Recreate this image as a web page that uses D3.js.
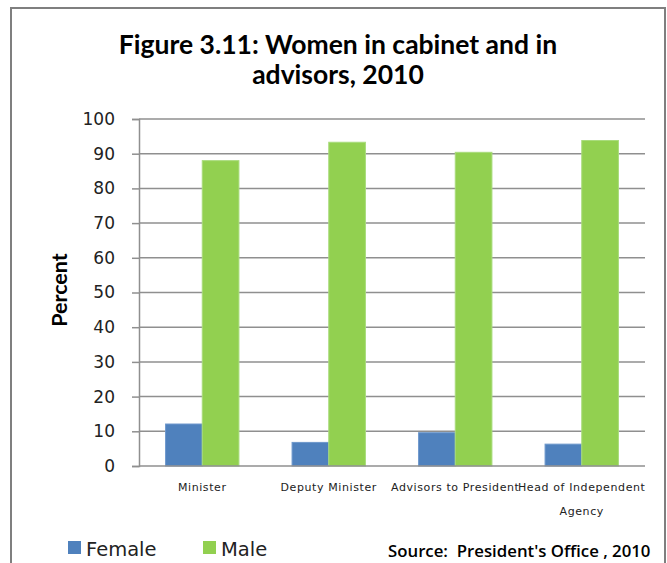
<!DOCTYPE html>
<html><head><meta charset="utf-8">
<script src="https://cdn.jsdelivr.net/npm/d3@7"></script>
<style>body{margin:0;background:#fff}svg{display:block}</style>
</head><body>
<svg id="c" width="667" height="563"></svg>
<script>
const categories = ["Minister", "Deputy Minister", "Advisors to President", "Head of Independent Agency"];
const seriesNames = ["Female", "Male"];
const female = [12.1, 6.8, 9.6, 6.3];
const male = [88.0, 93.3, 90.4, 93.8];
const yTicks = [0, 10, 20, 30, 40, 50, 60, 70, 80, 90, 100];
const colors = ["#4f81bd", "#92d050"];
const strokes = ["#6e98cc", "#a9dc7c"];

const svg = d3.select("#c");
const m = {left: 139, right: 645, top: 119, bottom: 466};

svg.append("rect").attr("x", 11).attr("y", 8).attr("width", 654).attr("height", 620)
  .attr("fill", "#fff").attr("stroke", "#7f7f7f").attr("stroke-width", 2);

svg.append("text").attr("x", 338).attr("y", 54).attr("text-anchor", "middle")
  .attr("font-family", "Lato").attr("font-weight", "bold").attr("font-size", 26.5).attr("fill", "#000")
  .text("Figure 3.11: Women in cabinet and in");
svg.append("text").attr("x", 338).attr("y", 84).attr("text-anchor", "middle")
  .attr("font-family", "Lato").attr("font-weight", "bold").attr("font-size", 26.5).attr("fill", "#000")
  .text("advisors, 2010");

const x0 = d3.scaleBand().domain(categories).range([m.left, m.right]).paddingInner(0.42).paddingOuter(0.21);
const x1 = d3.scaleBand().domain(seriesNames).range([0, x0.bandwidth()]);
const y = d3.scaleLinear().domain([0, 100]).range([m.bottom, m.top]);

// gridlines
svg.append("g").selectAll("line").data(yTicks.filter(d => d > 0)).join("line")
  .attr("x1", m.left).attr("x2", m.right).attr("y1", d => y(d)).attr("y2", d => y(d))
  .attr("stroke", "#8f8f8f").attr("stroke-width", 1.5);

// y axis
const yAxis = svg.append("g").attr("transform", `translate(${m.left},0)`)
  .call(d3.axisLeft(y).tickValues(yTicks).tickSize(7).tickPadding(17).tickFormat(d3.format("d")));
yAxis.select(".domain").attr("stroke", "#8f8f8f").attr("stroke-width", 1.5);
yAxis.selectAll(".tick line").attr("stroke", "#8f8f8f").attr("stroke-width", 1.5);
yAxis.selectAll(".tick text").attr("font-family", "DejaVu Sans").attr("font-size", 17).attr("fill", "#222");

// bars
const groups = svg.append("g").selectAll("g").data(categories).join("g")
  .attr("transform", d => `translate(${x0(d)},0)`);
groups.selectAll("rect").data((d, i) => [{k: "Female", v: female[i], s: 0}, {k: "Male", v: male[i], s: 1}]).join("rect")
  .attr("x", d => x1(d.k)).attr("width", x1.bandwidth())
  .attr("y", d => y(d.v)).attr("height", d => y(0) - y(d.v))
  .attr("fill", d => colors[d.s]).attr("stroke", d => strokes[d.s]).attr("stroke-width", 1);

// x axis baseline
svg.append("line").attr("x1", m.left).attr("x2", m.right).attr("y1", y(0)).attr("y2", y(0))
  .attr("stroke", "#8f8f8f").attr("stroke-width", 1.5);

// category labels with wrapping
const xl = svg.append("g");
categories.forEach(c => {
  const cx = x0(c) + x0.bandwidth() / 2;
  const t = xl.append("text").attr("x", cx).attr("y", 491)
    .attr("text-anchor", "middle").attr("font-family", "DejaVu Sans").attr("font-size", 11)
    .attr("letter-spacing", 0.6).attr("fill", "#222");
  const words = c.split(" ");
  let line = [];
  let ts = t.append("tspan").attr("x", cx).attr("dy", 0);
  words.forEach(w => {
    line.push(w);
    ts.text(line.join(" "));
    if (ts.node().getComputedTextLength() > 140 && line.length > 1) {
      line.pop(); ts.text(line.join(" "));
      line = [w];
      ts = t.append("tspan").attr("x", cx).attr("dy", 24).text(w);
    }
  });
});

// y label
svg.append("text").attr("transform", "translate(67,290) rotate(-90)").attr("text-anchor", "middle")
  .attr("font-family", "Lato").attr("font-weight", "bold").attr("font-size", 21.5).attr("fill", "#000")
  .text("Percent");

// legend
const legX = [68, 203];
seriesNames.forEach((s, i) => {
  svg.append("rect").attr("x", legX[i]).attr("y", 541).attr("width", 13).attr("height", 13).attr("fill", colors[i]);
  svg.append("text").attr("x", legX[i] + 18).attr("y", 555.5).attr("font-family", "DejaVu Sans").attr("font-size", 19.5)
    .attr("fill", "#222").text(s);
});

svg.append("text").attr("x", 388).attr("y", 557).attr("font-family", "Open Sans").attr("font-weight", 600)
  .attr("font-size", 16.8).attr("fill", "#000").attr("xml:space", "preserve").style("white-space", "pre")
  .text("Source:  President's Office , 2010");
</script>
</body></html>
